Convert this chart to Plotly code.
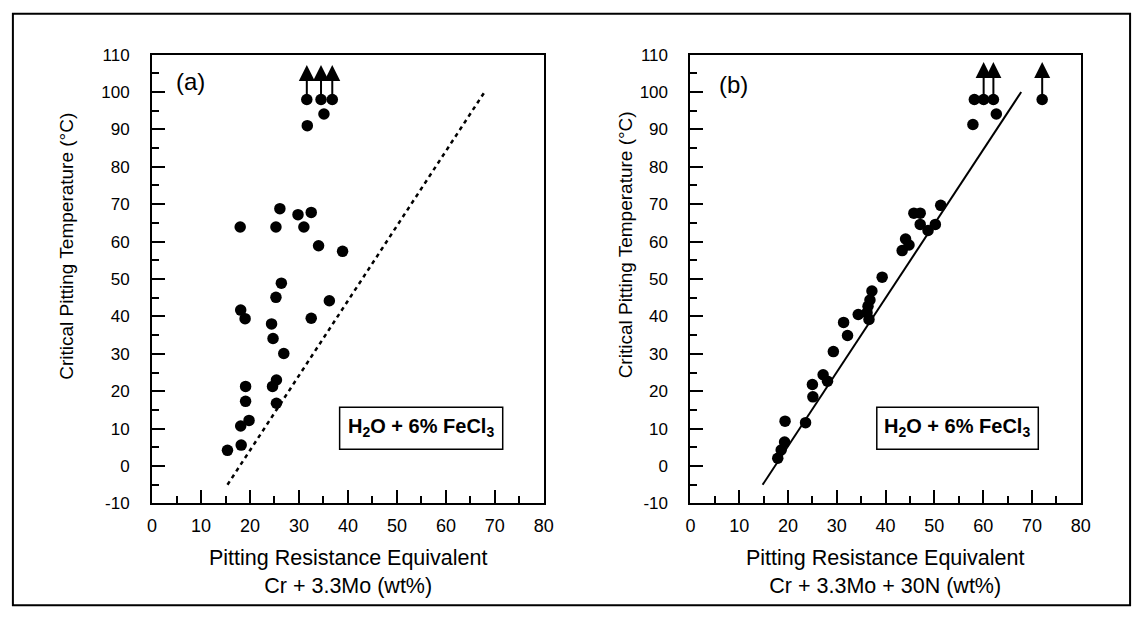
import plotly.graph_objects as go

# ---------------- data ----------------
# Panel (a): CPT vs PRE = Cr + 3.3Mo
a_pre = [31.6, 34.5, 36.8, 35.1, 31.7,
         26.1, 29.8, 32.5, 18.0, 25.3, 31.0,
         34.0, 38.9, 26.4, 25.3, 36.2, 18.1, 19.0, 24.4, 32.5, 24.7,
         26.9, 25.4, 24.6, 19.1, 19.1, 25.4, 19.8, 18.1, 18.2, 15.4]
a_cpt = [98, 98, 98, 94.1, 91.0,
         68.8, 67.2, 67.8, 63.9, 63.9, 63.9,
         58.9, 57.4, 48.9, 45.1, 44.2, 41.7, 39.4, 38.0, 39.5, 34.1,
         30.1, 23.0, 21.3, 21.3, 17.3, 16.8, 12.2, 10.7, 5.6, 4.2]
a_arrow_pre = [31.6, 34.5, 36.8]
a_arrow_from = [98, 98, 98]
a_arrow_to = [107.2, 107.2, 107.2]
a_line_pre = [15.4, 67.9]
a_line_cpt = [-5, 100]

# Panel (b): CPT vs PRE = Cr + 3.3Mo + 30N
b_pre = [17.9, 18.6, 19.3, 19.4, 23.6, 25.1, 25.0, 28.1, 27.2, 29.3,
         32.2, 31.4, 34.4, 36.2, 36.4, 36.8, 37.2, 36.6, 39.3, 43.4,
         44.8, 44.1, 45.8, 47.1, 47.1, 48.7, 50.2, 51.3, 57.9, 58.2,
         60.1, 62.1, 62.7, 72.1]
b_cpt = [2.1, 4.3, 6.4, 12.0, 11.6, 18.5, 21.8, 22.7, 24.4, 30.6,
         34.9, 38.4, 40.5, 41.0, 42.7, 44.4, 46.8, 39.2, 50.5, 57.6,
         59.1, 60.7, 67.6, 67.6, 64.6, 63.0, 64.6, 69.7, 91.3, 98.0,
         98.0, 98.0, 94.1, 98.0]
b_arrow_pre = [60.1, 62.1, 72.1]
b_arrow_from = [98, 98, 98]
b_arrow_to = [108, 108, 108]
b_line_pre = [14.8, 67.8]
b_line_cpt = [-5, 100]

x_range = [0, 80]
y_range = [-10, 110]
x_tickvals = [0, 10, 20, 30, 40, 50, 60, 70, 80]
x_ticktext = ["0", "10", "20", "30", "40", "50", "60", "70", "80"]
y_tickvals = [-10, 0, 10, 20, 30, 40, 50, 60, 70, 80, 90, 100, 110]
y_ticktext = ["-10", "0", "10", "20", "30", "40", "50", "60", "70", "80", "90", "100", "110"]

FONT = "Liberation Sans, Arial, Helvetica, sans-serif"
W, H = 1146, 624


def px(x):
    return x / W


def py(y):
    return 1 - y / H


fig = go.Figure()

# panel a
fig.add_trace(go.Scatter(x=a_line_pre, y=a_line_cpt, mode="lines",
                         line=dict(color="black", width=2.5, dash="4px,4px"),
                         xaxis="x", yaxis="y", showlegend=False))
fig.add_trace(go.Scatter(x=a_pre, y=a_cpt, mode="markers",
                         marker=dict(color="black", size=11.5),
                         xaxis="x", yaxis="y", showlegend=False))
# panel b
fig.add_trace(go.Scatter(x=b_line_pre, y=b_line_cpt, mode="lines",
                         line=dict(color="black", width=2),
                         xaxis="x2", yaxis="y2", showlegend=False))
fig.add_trace(go.Scatter(x=b_pre, y=b_cpt, mode="markers",
                         marker=dict(color="black", size=11.5),
                         xaxis="x2", yaxis="y2", showlegend=False))

axis_common = dict(
    showline=True, linewidth=2, linecolor="black", mirror=True,
    ticks="inside", ticklen=13, tickwidth=2, tickcolor="black",
    showgrid=False, zeroline=False,
    minor=dict(ticks="inside", ticklen=7, tickwidth=1.5, tickcolor="black",
               dtick=5, tick0=0),
)
xax = dict(range=x_range, tickmode="array", tickvals=x_tickvals, ticktext=x_ticktext,
           tickfont=dict(size=18), ticklabelstandoff=5, **axis_common)
yax = dict(range=y_range, tickmode="array", tickvals=y_tickvals, ticktext=y_ticktext,
           tickfont=dict(size=17), ticklabelstandoff=17, **axis_common)

yd = [py(510), py(47)]
fig.update_layout(
    width=W, height=H,
    margin=dict(l=0, r=0, t=0, b=0),
    paper_bgcolor="white", plot_bgcolor="white",
    font=dict(family=FONT, color="black"),
    xaxis=dict(domain=[px(149), px(546)], anchor="y", **xax),
    yaxis=dict(domain=yd, anchor="x", **yax),
    xaxis2=dict(domain=[px(694.5), px(1090)], anchor="y2", **xax),
    yaxis2=dict(domain=yd, anchor="x2", **yax),
)

annotations = []
# arrows
for xs, y0s, y1s, xr, yr in [(a_arrow_pre, a_arrow_from, a_arrow_to, "x", "y"),
                             (b_arrow_pre, b_arrow_from, b_arrow_to, "x2", "y2")]:
    for xv, y0, y1 in zip(xs, y0s, y1s):
        annotations.append(dict(
            x=xv, y=y1, ax=xv, ay=y0, xref=xr, yref=yr, axref=xr, ayref=yr,
            text="", showarrow=True, arrowhead=2, arrowsize=1.6,
            arrowwidth=2, arrowcolor="black", standoff=0, startstandoff=0))

C = dict(xanchor="center", yanchor="middle", showarrow=False)
# panel labels
annotations.append(dict(x=7.9, y=102.8, xref="x", yref="y", text="(a)",
                        font=dict(size=24), **C))
annotations.append(dict(x=8.8, y=102.0, xref="x2", yref="y2", text="(b)",
                        font=dict(size=24), **C))

# solution labels
box_text = "<b>H<sub>2</sub>O + 6% FeCl<sub>3</sub></b>"
annotations.append(dict(x=54.9, y=10.3, xref="x", yref="y", text=box_text,
                        font=dict(size=20), **C))
annotations.append(dict(x=54.7, y=10.3, xref="x2", yref="y2", text=box_text,
                        font=dict(size=20), **C))

# y titles
ytitle = "Critical Pitting Temperature (°C)"
annotations.append(dict(x=px(62), y=py(245), xref="paper", yref="paper",
                        text=ytitle, textangle=-90, font=dict(size=19), **C))
annotations.append(dict(x=px(629), y=py(243), xref="paper", yref="paper",
                        text=ytitle, textangle=-90, font=dict(size=19), **C))
# x titles
annotations.append(dict(x=px(348), y=py(581), xref="paper", yref="paper",
                        text="Pitting Resistance Equivalent<br>Cr + 3.3Mo (wt%)",
                        font=dict(size=21.5), **C))
annotations.append(dict(x=px(892), y=py(581), xref="paper", yref="paper",
                        text="Pitting Resistance Equivalent<br>Cr + 3.3Mo + 30N (wt%)",
                        font=dict(size=21.5), **C))

fig.update_layout(annotations=annotations)

shapes = [
    dict(type="rect", xref="paper", yref="paper",
         x0=px(8), x1=px(1140), y0=py(615), y1=py(5),
         line=dict(color="black", width=2), fillcolor="rgba(0,0,0,0)"),
    dict(type="rect", xref="x", yref="y", x0=38.3, x1=71.6, y0=4.5, y1=15.7,
         line=dict(color="black", width=1.5)),
    dict(type="rect", xref="x2", yref="y2", x0=38.2, x1=71.3, y0=4.5, y1=15.7,
         line=dict(color="black", width=1.5)),
]
fig.update_layout(shapes=shapes)

fig.write_html("out.html")
